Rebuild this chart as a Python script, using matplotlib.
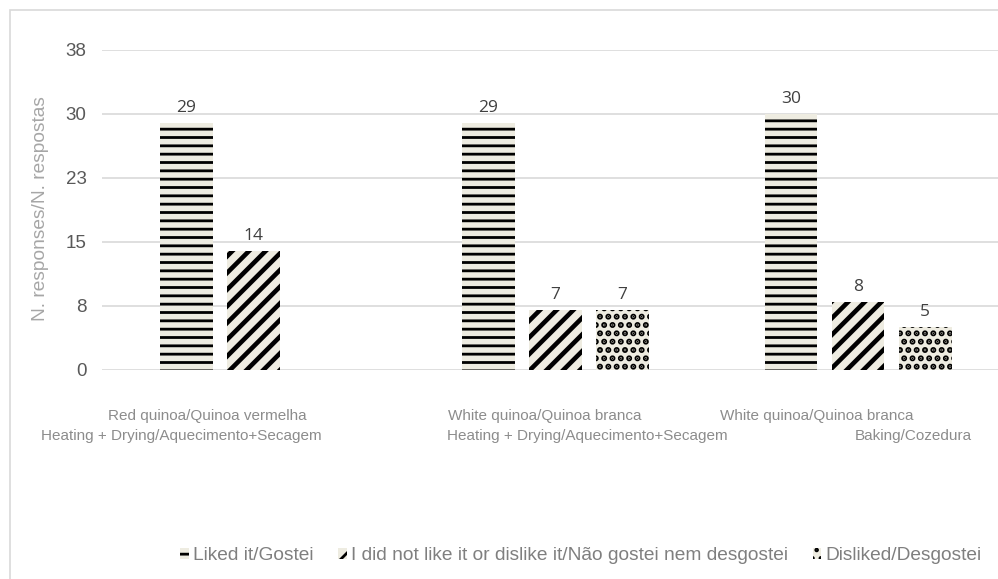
import numpy as np
import matplotlib
matplotlib.use("Agg")
import matplotlib.pyplot as plt
from matplotlib.patches import Rectangle

# data
cat_line1 = ["Red quinoa/Quinoa vermelha", "White quinoa/Quinoa branca", "White quinoa/Quinoa branca"]
cat_line2 = ["Heating + Drying/Aquecimento+Secagem", "Heating + Drying/Aquecimento+Secagem", "Baking/Cozedura"]
series_names = ["Liked it/Gostei",
                "I did not like it or dislike it/Não gostei nem desgostei",
                "Disliked/Desgostei"]
liked = [29, 29, 30]
neutral = [14, 7, 8]
disliked = [np.nan, 7, 5]
y_ticks = [0, 7.5, 15, 22.5, 30, 37.5]
y_tick_labels = ["0", "8", "15", "23", "30", "38"]

# label offsets (points) relative to the category centre, line 1 / line 2
off1 = [-33, -8, -30]
off2 = [-52, 23, 40]

plt.rcParams['font.family'] = ['Liberation Sans', 'DejaVu Sans']
plt.rcParams['hatch.linewidth'] = 2.0

fig = plt.figure(figsize=(9.98, 5.79), dpi=100)
ax = fig.add_axes([0.102, 0.361, 0.9093, 0.5527])

fill = '#EEECE1'
hatches = ['--', '//', '..']
hatch_lw = [2.0, 3.3, 3.0]
width = 0.175
step = 0.2215
x = np.arange(len(liked))

for j, vals in enumerate([liked, neutral, disliked]):
    bars = ax.bar(x + (j - 1) * step, vals, width, color=fill, edgecolor='black',
                  linewidth=0, hatch=hatches[j], label=series_names[j], zorder=2)
    for b in bars:
        if hasattr(b, 'set_hatch_linewidth'):
            b.set_hatch_linewidth(hatch_lw[j])
    for xi, v in zip(x + (j - 1) * step, vals):
        if np.isnan(v):
            continue
        ax.annotate(f"{v:g}", (xi, v), xytext=(0, 5), textcoords='offset points',
                    ha='center', va='bottom', fontsize=12.5, color='#404040',
                    family=['Open Sans', 'DejaVu Sans'])

ax.set_xlim(-0.5, 2.5)
ax.set_ylim(0, 37.5)
ax.set_yticks(y_ticks)
ax.set_yticklabels(y_tick_labels)
ax.tick_params(axis='y', length=0, pad=11, labelsize=13.5, labelcolor='#595959')
ax.set_xticks([])
ax.grid(axis='y', color='#D9D9D9', linewidth=1.2, zorder=0)
ax.set_axisbelow(True)
for s in ax.spines.values():
    s.set_visible(False)

ax.set_ylabel("N. responses/N. respostas", fontsize=13.8, color='#A6A6A6')
ax.yaxis.set_label_coords(-0.0587, 0.505)

for i in range(len(cat_line1)):
    ax.annotate(cat_line1[i], (i, 0), xytext=(off1[i], -33), textcoords='offset points',
                ha='center', va='center', fontsize=11, color='#8C8C8C', annotation_clip=False)
    ax.annotate(cat_line2[i], (i, 0), xytext=(off2[i], -47.5), textcoords='offset points',
                ha='center', va='center', fontsize=11, color='#8C8C8C', annotation_clip=False)

leg = fig.legend(loc='center', bbox_to_anchor=(0.582, 0.040), ncol=3, frameon=False,
                 fontsize=13.8, handlelength=0.45, handleheight=0.45, handletextpad=0.2,
                 columnspacing=1.3, labelcolor='#7F7F7F')

# outer chart border, cut off on the right and bottom
fig.patches.append(Rectangle((10 / 998, -0.1), 2, 1.1 - 10 / 579, transform=fig.transFigure,
                             fill=False, edgecolor='#D9D9D9', linewidth=1.2))

fig.savefig("out.png", dpi=100)
